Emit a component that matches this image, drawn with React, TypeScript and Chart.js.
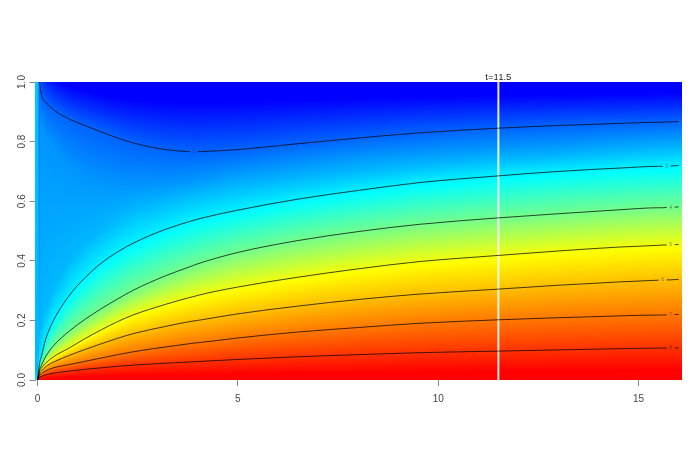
import React, { useEffect, useRef } from "react";
import { Chart, registerables } from "chart.js";

Chart.register(...registerables);

const columns = [0, 0.05, 0.1, 0.2, 0.4, 0.8, 1.2, 1.6, 2, 2.4, 3.2, 3.8, 3.9, 4, 5, 6.5, 8, 9.5, 11.5, 13, 14.5, 15.5, 15.6, 15.7, 15.8, 15.9, 16];
const level2 = [null, 1, 0.955, 0.933, 0.907, 0.875, 0.853, 0.832, 0.812, 0.795, 0.773, 0.766, null, 0.766, 0.773, 0.793, 0.812, 0.829, 0.845, 0.854, 0.861, 0.865, 0.865, 0.866, 0.866, 0.867, 0.867];
const level3 = [0, 0.055, 0.08, 0.135, 0.2, 0.285, 0.345, 0.393, 0.43, 0.46, 0.506, 0.532, 0.536, 0.54, 0.57, 0.607, 0.636, 0.662, 0.685, 0.7, 0.711, 0.717, 0.717, null, 0.718, 0.719, 0.72];
const level4 = [0, 0.035, 0.05, 0.078, 0.115, 0.165, 0.205, 0.24, 0.272, 0.302, 0.35, 0.38, 0.385, 0.39, 0.428, 0.468, 0.498, 0.522, 0.544, 0.558, 0.571, 0.578, 0.578, 0.579, null, 0.58, 0.581];
const level5 = [0, 0.028, 0.04, 0.056, 0.078, 0.108, 0.14, 0.169, 0.196, 0.219, 0.254, 0.277, 0.28, 0.284, 0.312, 0.345, 0.373, 0.397, 0.418, 0.433, 0.446, 0.452, 0.453, 0.453, null, 0.454, 0.455];
const level6 = [0, 0.022, 0.03, 0.044, 0.06, 0.083, 0.103, 0.122, 0.14, 0.156, 0.18, 0.196, 0.198, 0.2, 0.222, 0.248, 0.27, 0.288, 0.305, 0.318, 0.329, 0.335, null, 0.336, 0.336, 0.337, 0.337];
const level7 = [0, 0.015, 0.021, 0.03, 0.041, 0.052, 0.063, 0.074, 0.085, 0.095, 0.111, 0.122, 0.124, 0.125, 0.141, 0.161, 0.176, 0.19, 0.202, 0.209, 0.215, 0.218, 0.218, 0.219, null, 0.22, 0.22];
const level8 = [0, 0.009, 0.012, 0.017, 0.023, 0.03, 0.036, 0.041, 0.046, 0.05, 0.0565, 0.0605, 0.0612, 0.062, 0.069, 0.078, 0.085, 0.0915, 0.097, 0.101, 0.105, 0.107, 0.107, 0.1075, null, 0.108, 0.108];
const nearLevel = 2.6;
const nearHeights = [0.03, 0.15, 0.19, 0.24, 0.31, 0.4, 0.46, 0.5, 0.54, 0.57, 0.6, 0.62, 0.623, 0.626, 0.65, 0.675, 0.7, 0.72, 0.74, 0.75, 0.765, 0.775, 0.776, 0.777, 0.777, 0.778, 0.779];
const upperLevel = 2.35;
const upperHeights = [null, 0.87, 0.85, 0.82, 0.78, 0.72, 0.685, 0.665, 0.655, 0.65, 0.66, 0.67, 0.672, 0.675, 0.7, 0.725, 0.75, 0.765, 0.78, 0.79, 0.805, 0.812, 0.812, 0.813, 0.814, 0.814, 0.815];
const topValues = [2.7, 2, 1.8, 1.6, 1.4, 1.2, 1.12, 1.05, 1.02, 1, 1, 1, 1, 1, 1, 1, 1, 1, 1, 1, 1, 1, 1, 1, 1, 1, 1];
const bottomValue = 9;

const levels = [2, 3, 4, 5, 6, 7, 8];
const levelSeries = [level2, level3, level4, level5, level6, level7, level8];
const labelColumns = [3.9, 15.7, 15.8, 15.8, 15.6, 15.8, 15.8];

const xTicks = [0, 5, 10, 15];
const yTicks = [0, 0.2, 0.4, 0.6, 0.8, 1];
const markerTime = 11.5;
const markerTop = 1.035;
const markerLabel = "t=11.5";

function lookup(series: (number | null)[], x: number): number | null {
  let a = -1;
  let b = -1;
  for (let i = 0; i < columns.length; i++) {
    if (series[i] == null) continue;
    if (columns[i] <= x) a = i;
    if (columns[i] >= x) {
      b = i;
      break;
    }
  }
  if (a < 0 || b < 0) return null;
  if (a === b) return series[a] as number;
  const t = (x - columns[a]) / (columns[b] - columns[a]);
  return (series[a] as number) * (1 - t) + (series[b] as number) * t;
}

function valueAt(x: number, y: number): number {
  const cx = Math.max(0, Math.min(16, x));
  const stops: [number, number][] = [[0, bottomValue]];
  const push = (h: number | null, v: number) => {
    if (h == null) return;
    stops.push([Math.max(h, stops[stops.length - 1][0] + 1e-6), v]);
  };
  for (let i = levels.length - 1; i >= 1; i--) push(lookup(levelSeries[i], cx), levels[i]);
  push(lookup(nearHeights, cx), nearLevel);
  push(lookup(upperHeights, cx), upperLevel);
  push(lookup(level2, cx), 2);
  stops.push([1.001, lookup(topValues, cx) as number]);
  for (let i = 1; i < stops.length; i++) {
    if (y <= stops[i][0]) {
      const t = (y - stops[i - 1][0]) / (stops[i][0] - stops[i - 1][0]);
      return stops[i - 1][1] * (1 - t) + stops[i][1] * t;
    }
  }
  return stops[stops.length - 1][1];
}

function colorOf(v: number): string {
  const c = (a: number) => Math.max(0, Math.min(255, Math.round(a * 255)));
  let r = 0;
  let g = 0;
  let b = 0;
  if (v >= 5.1) {
    r = 1;
    g = (8.7 - v) / 3.6;
  } else if (v >= 3.1) {
    r = (v - 3.1) / 2;
    g = 1;
    b = (5.1 - v) / 2;
  } else {
    g = (v - 1.3) / 1.8;
    b = 1;
  }
  return `rgb(${c(r)},${c(g)},${c(b)})`;
}

const heatPlugin = {
  id: "heat",
  beforeDatasetsDraw(chart: any) {
    const { ctx, chartArea, scales } = chart;
    const sx = scales.x;
    const sy = scales.y;
    ctx.save();
    for (let px = Math.floor(chartArea.left); px < chartArea.right; px++) {
      const x = sx.getValueForPixel(px + 0.5);
      for (let py = Math.floor(chartArea.top); py < chartArea.bottom; py++) {
        const y = sy.getValueForPixel(py + 0.5);
        ctx.fillStyle = colorOf(valueAt(x, y));
        ctx.fillRect(px, py, 1, 1);
      }
    }
    ctx.font = "9.5px 'Liberation Sans'";
    ctx.fillStyle = "#222";
    ctx.textAlign = "center";
    ctx.textBaseline = "middle";
    ctx.fillText(markerLabel, sx.getPixelForValue(markerTime), sy.getPixelForValue(1) - 4.5);
    ctx.restore();
  },
};

const textPlugin = {
  id: "contourText",
  afterDatasetsDraw(chart: any) {
    const { ctx, scales } = chart;
    ctx.save();
    ctx.textAlign = "center";
    ctx.textBaseline = "middle";
    ctx.font = "5px 'Liberation Sans'";
    ctx.fillStyle = "rgba(0,0,0,0.45)";
    levels.forEach((lv, i) => {
      const y = lookup(levelSeries[i], labelColumns[i]);
      if (y == null) return;
      ctx.fillText(String(lv), scales.x.getPixelForValue(labelColumns[i]), scales.y.getPixelForValue(y));
    });
    ctx.restore();
  },
};

export default function App() {
  const ref = useRef<HTMLCanvasElement | null>(null);
  useEffect(() => {
    if (!ref.current) return;
    const datasets: any[] = levels.map((lv, i) => ({
      label: String(lv),
      data: columns.map((x, j) => ({ x, y: levelSeries[i][j] })),
      borderColor: "rgba(0,0,0,0.72)",
      borderWidth: 1,
      pointRadius: 0,
      spanGaps: false,
      cubicInterpolationMode: "monotone",
    }));
    datasets.push({
      label: "t",
      data: [
        { x: markerTime, y: 0 },
        { x: markerTime, y: markerTop },
      ],
      borderColor: "rgba(255,255,255,0.9)",
      borderWidth: 2,
      pointRadius: 0,
      clip: false,
    });
    const chart = new Chart(ref.current, {
      type: "line",
      data: { datasets },
      plugins: [heatPlugin, textPlugin],
      options: {
        animation: false,
        responsive: false,
        parsing: { xAxisKey: "x", yAxisKey: "y" },
        layout: { padding: { top: 82, right: 14.5, left: 0, bottom: 0 } },
        plugins: { legend: { display: false }, tooltip: { enabled: false }, title: { display: false } },
        scales: {
          x: {
            type: "linear",
            min: -0.05,
            max: 16.07,
            afterBuildTicks: (s: any) => {
              s.ticks = xTicks.map((value) => ({ value }));
            },
            afterFit: (s: any) => {
              s.height = 84;
            },
            border: { display: false },
            grid: { drawOnChartArea: false, tickLength: 6, tickColor: "#888" },
            ticks: {
              color: "#444",
              font: { family: "'Liberation Sans'", size: 10 },
              maxRotation: 0,
              autoSkip: false,
              padding: 7,
              callback: (v: any) => String(v),
            },
          },
          y: {
            type: "linear",
            min: 0,
            max: 1,
            afterBuildTicks: (s: any) => {
              s.ticks = yTicks.map((value) => ({ value }));
            },
            afterFit: (s: any) => {
              s.width = 35.5;
            },
            border: { display: true, color: "#8a9aa8", width: 1 },
            grid: { drawOnChartArea: false, tickLength: 6, tickColor: "#888" },
            ticks: {
              color: "#444",
              font: { family: "'Liberation Sans'", size: 10 },
              minRotation: 90,
              maxRotation: 90,
              autoSkip: false,
              crossAlign: "center",
              padding: 0,
              callback: (v: any) => Number(v).toFixed(1),
            },
          },
        },
      } as any,
    });
    return () => chart.destroy();
  }, []);
  return (
    <div style={{ position: "absolute", left: 0, top: 0, width: 696, height: 464, background: "#fff", overflow: "hidden" }}>
      <canvas ref={ref} width={696} height={464} style={{ display: "block", filter: "blur(0.5px)" }} />
    </div>
  );
}
